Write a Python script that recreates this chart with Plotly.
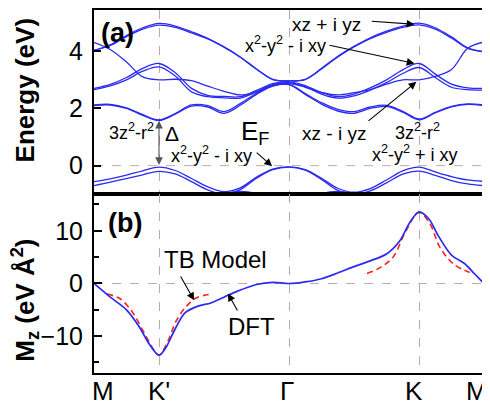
import plotly.graph_objects as go

# ---------------- data ----------------
# k-path coordinate: M=0, K'=1, Gamma=3, K=5, M=6
k_band = [0, 0.25, 0.5, 0.75, 1, 1.25, 1.5, 1.75, 2, 2.25, 2.5, 2.75, 3,
          3.25, 3.5, 3.75, 4, 4.25, 4.5, 4.75, 5, 5.25, 5.5, 5.75, 6]

band_A_up = [4.03, 4.22, 4.55, 4.82, 4.97, 4.88, 4.68, 4.45, 4.15, 3.80, 3.38, 3.02, 2.96,
             3.02, 3.40, 3.82, 4.17, 4.47, 4.70, 4.88, 4.98, 4.82, 4.50, 4.12, 3.98]
band_A_dn = [4.03, 4.20, 4.51, 4.77, 4.91, 4.83, 4.64, 4.43, 4.14, 3.79, 3.37, 3.01, 2.96,
             3.01, 3.38, 3.80, 4.15, 4.44, 4.66, 4.83, 4.92, 4.77, 4.46, 4.10, 3.98]
band_B = [4.30, 4.06, 3.62, 3.10, 3.00, 3.02, 2.97, 2.78, 2.60, 2.47, 2.58, 2.80, 2.87,
          2.74, 2.56, 2.47, 2.55, 2.66, 2.85, 3.00, 3.00, 3.12, 3.36, 4.10, 4.32]
band_C3_up = [2.70, 2.84, 3.08, 3.40, 3.57, 3.25, 2.70, 2.46, 2.42, 2.41, 2.63, 2.87, 2.93,
              2.80, 2.55, 2.41, 2.50, 2.72, 3.00, 3.35, 3.57, 3.20, 2.85, 2.72, 2.70]
band_C3_dn = [2.66, 2.79, 3.00, 3.30, 3.45, 3.13, 2.58, 2.41, 2.37, 2.36, 2.58, 2.83, 2.90,
              2.76, 2.50, 2.36, 2.44, 2.64, 2.90, 3.22, 3.43, 3.08, 2.74, 2.66, 2.64]
band_C1_up = [2.12, 2.14, 2.02, 1.78, 1.60, 1.82, 2.12, 2.10, 1.89, 2.17, 2.53, 2.80, 2.84,
              2.52, 2.20, 1.97, 1.89, 2.05, 2.11, 1.90, 1.63, 1.86, 2.07, 2.16, 2.12]
band_C1_dn = [2.10, 2.12, 2.00, 1.76, 1.58, 1.80, 2.08, 2.05, 1.83, 2.11, 2.49, 2.78, 2.83,
              2.49, 2.15, 1.91, 1.83, 2.00, 2.07, 1.87, 1.60, 1.84, 2.05, 2.14, 2.10]
band_V1_up = [-0.56, -0.46, -0.33, -0.18, -0.05, -0.17, -0.45, -0.74, -0.91, -0.78, -0.40, -0.12, -0.04,
              -0.14, -0.44, -0.79, -0.93, -0.80, -0.50, -0.18, -0.05, -0.22, -0.38, -0.50, -0.55]
band_V1_dn = [-0.70, -0.58, -0.45, -0.32, -0.20, -0.29, -0.56, -0.85, -1.00, -0.84, -0.44, -0.14, -0.05,
              -0.16, -0.48, -0.86, -1.00, -0.88, -0.60, -0.30, -0.19, -0.34, -0.52, -0.64, -0.70]
band_V2 = [-1.6, -1.6, -1.6, -1.6, -1.6, -1.5, -1.3, -1.1, -0.97, -0.90, -0.98, -1.2, -1.3,
           -1.2, -0.98, -0.90, -0.97, -1.1, -1.3, -1.5, -1.6, -1.6, -1.6, -1.6, -1.6]

k_dft = [0, 0.25, 0.5, 0.7, 0.85, 1.0, 1.1, 1.25, 1.4, 1.6, 1.8, 2.0, 2.2, 2.5, 2.75, 3.0,
         3.25, 3.5, 3.75, 4.0, 4.25, 4.5, 4.7, 4.85, 5.0, 5.15, 5.3, 5.5, 5.7, 5.85, 6.0]
mz_dft = [0, -2.6, -5.0, -8.3, -11.5, -13.6, -12.3, -8.6, -5.6, -4.3, -3.7, -2.6, -1.5, -0.2, 0.2, 0,
          0.3, 0.9, 2.0, 3.2, 4.3, 5.6, 8.0, 11.4, 13.6, 12.3, 9.0, 5.4, 3.8, 1.9, 0]

k_tb_left = [0.2, 0.4, 0.6, 0.8, 1.0, 1.12, 1.27, 1.43, 1.58, 1.81]
mz_tb_left = [-2.0, -2.9, -5.6, -10.0, -13.6, -11.4, -7.0, -4.2, -2.7, -2.0]
k_tb_right = [4.2, 4.4, 4.6, 4.8, 5.0, 5.17, 5.32, 5.53, 5.78]
mz_tb_right = [1.9, 3.0, 5.0, 10.0, 13.5, 11.3, 6.9, 3.7, 2.1]

xtick_vals = [0, 1, 3, 5, 6]
xtick_text = ["M", "K'", "Γ", "K", "M"]
xtick_label_pos = [0.14, 1.0, 2.97, 4.92, 5.89]

# ---------------- figure ----------------
BLUE = "#2a2af0"
RED = "#ff2020"
GRID = "#c8a6a6"
FONT = "Liberation Sans, Arial, Helvetica, sans-serif"

fig = go.Figure()

for vals in [band_V2, band_V1_dn, band_V1_up, band_C1_dn, band_C1_up, band_C3_dn,
             band_C3_up, band_B, band_A_dn, band_A_up]:
    fig.add_trace(go.Scatter(x=k_band, y=vals, mode="lines",
                             line=dict(color=BLUE, width=1.3, shape="spline", smoothing=1.0),
                             xaxis="x", yaxis="y", showlegend=False, hoverinfo="skip"))

fig.add_trace(go.Scatter(x=k_tb_left, y=mz_tb_left, mode="lines",
                         line=dict(color=RED, width=1.6, dash="6px,4px", shape="spline"),
                         xaxis="x2", yaxis="y2", showlegend=False))
fig.add_trace(go.Scatter(x=k_tb_right, y=mz_tb_right, mode="lines",
                         line=dict(color=RED, width=1.6, dash="6px,4px", shape="spline"),
                         xaxis="x2", yaxis="y2", showlegend=False))
fig.add_trace(go.Scatter(x=k_dft, y=mz_dft, mode="lines",
                         line=dict(color=BLUE, width=1.7, shape="spline", smoothing=0.9),
                         xaxis="x2", yaxis="y2", showlegend=False))

# page body adds an 8 px offset; figure sized so the plot box lands where the reference has it
split = 0.4932
axis_common = dict(showline=True, linecolor="black", linewidth=2, mirror=True,
                   zeroline=False, tickfont=dict(size=25, color="black", family=FONT))

fig.update_layout(
    width=482, height=400,
    margin=dict(l=86, r=6, t=0, b=35),
    paper_bgcolor="white", plot_bgcolor="white",
    font=dict(family=FONT, color="black"),
    xaxis=dict(domain=[0, 1], anchor="y", range=[0, 6], tickvals=[1, 3, 5],
               showticklabels=False, ticks="", showgrid=True, gridcolor=GRID,
               griddash="dash", gridwidth=1, **axis_common),
    yaxis=dict(domain=[split, 1], anchor="x", range=[-0.99, 5.44], tickvals=[0, 2, 4],
               ticks="inside", ticklen=7, tickwidth=1.5, tickcolor="black",
               showgrid=False, ticklabelstandoff=4, **axis_common),
    xaxis2=dict(domain=[0, 1], anchor="y2", range=[0, 6], tickvals=xtick_vals,
                showticklabels=False, ticks="", showgrid=True, gridcolor=GRID,
                griddash="dash", gridwidth=1, **axis_common),
    yaxis2=dict(domain=[0, split], anchor="x2", range=[-17, 17], tickvals=[-10, 0, 10],
                ticks="inside", ticklen=8, tickwidth=1.5, tickcolor="black",
                minor=dict(tickvals=[-15, -5, 5, 15], ticks="inside", ticklen=5,
                           tickwidth=1.5, tickcolor="black"),
                showgrid=False, ticklabelstandoff=4, **axis_common),
)

# dashed zero lines
for yr, xr in [("y", "x"), ("y2", "x2")]:
    fig.add_shape(type="line", xref=xr + " domain", yref=yr, x0=0, x1=1, y0=0, y1=0,
                  line=dict(color=GRID, width=1, dash="dash"), layer="below")

# x tick labels (high-symmetry points)
for xv, t in zip(xtick_label_pos, xtick_text):
    fig.add_annotation(x=xv, y=-0.004, xref="x2", yref="paper", text=t, showarrow=False,
                       font=dict(size=26, color="black", family=FONT),
                       xanchor="center", yanchor="top")

def text(x, y, s, xref="x", yref="y", size=18, bold=False):
    fig.add_annotation(x=x, y=y, xref=xref, yref=yref, text=(f"<b>{s}</b>" if bold else s),
                       showarrow=False, font=dict(size=size, color="black", family=FONT),
                       xanchor="center", yanchor="middle")

def arrow(x, y, ax, ay, xref="x", yref="y", color="black", side="end"):
    fig.add_annotation(x=x, y=y, ax=ax, ay=ay, xref=xref, yref=yref, axref=xref, ayref=yref,
                       text="", showarrow=True, arrowhead=2, arrowsize=1.4, arrowwidth=1.1,
                       arrowcolor=color, arrowside=side)

# panel (a)
text(0.36, 4.62, "(a)", size=27, bold=True)
text(3.58, 4.95, "xz + i yz", size=19)
arrow(4.93, 4.94, 4.25, 5.05)
text(2.94, 4.22, "x<sup>2</sup>-y<sup>2</sup> - i xy")
arrow(4.93, 3.57, 3.6, 4.22)
text(3.69, 1.12, "xz - i yz", size=19)
arrow(4.96, 2.93, 4.2, 1.52)
text(4.98, 1.19, "3z<sup>2</sup>-r<sup>2</sup>")
text(4.94, 0.42, "x<sup>2</sup>-y<sup>2</sup> + i xy")
text(0.57, 1.19, "3z<sup>2</sup>-r<sup>2</sup>")
text(1.20, 1.12, "Δ", size=21)
text(1.80, 0.40, "x<sup>2</sup>-y<sup>2</sup> - i xy")
arrow(1.0, 1.57, 1.0, -0.03, color="#555555", side="end+start")
text(2.47, 1.16, "E<sub>F</sub>", size=26)
arrow(2.74, -0.02, 2.48, 0.5)

# panel (b)
text(0.48, 11.4, "(b)", xref="x2", yref="y2", size=27, bold=True)
text(1.87, 4.6, "TB Model", xref="x2", yref="y2", size=24)
arrow(1.54, -3.2, 1.32, 1.6, xref="x2", yref="y2")
text(2.42, -8.1, "DFT", xref="x2", yref="y2", size=24)
arrow(2.06, -1.9, 2.22, -5.4, xref="x2", yref="y2")

# axis titles
fig.add_annotation(x=-0.178, y=0.78, xref="paper", yref="paper", text="<b>Energy (eV)</b>",
                   textangle=-90, showarrow=False, font=dict(size=26, color="black", family=FONT),
                   xanchor="center", yanchor="middle")
fig.add_annotation(x=-0.176, y=0.20, xref="paper", yref="paper",
                   text="<b>M<sub>z</sub> (eV Å<sup>2</sup>)</b>",
                   textangle=-90, showarrow=False, font=dict(size=26, color="black", family=FONT),
                   xanchor="center", yanchor="middle")

fig.write_html("out.html")
